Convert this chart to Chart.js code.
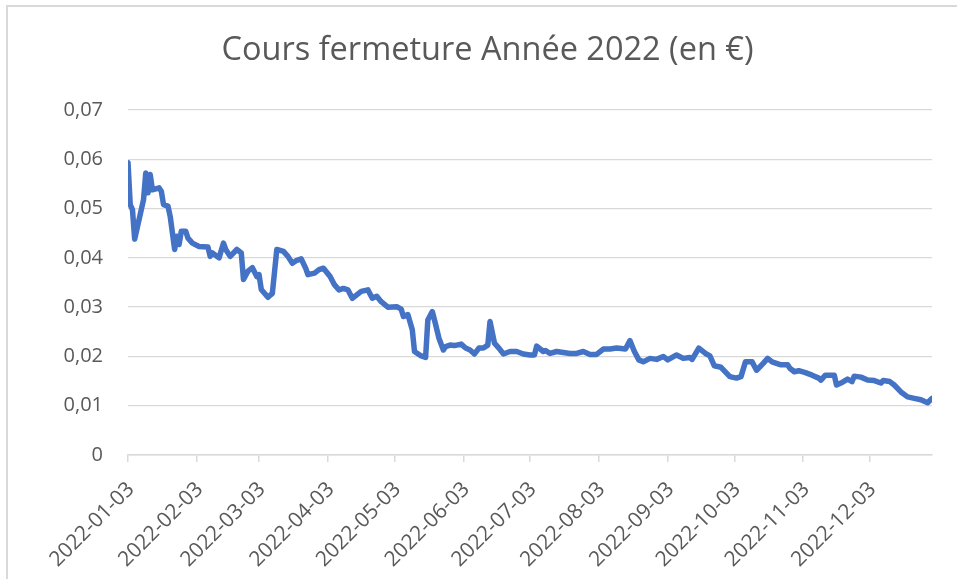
<!DOCTYPE html>
<html>
<head>
<meta charset="utf-8">
<script src="https://cdn.jsdelivr.net/npm/chart.js@4"></script>
<style>
  html, body { margin: 0; padding: 0; background: #ffffff; }
  #wrap { position: relative; width: 957px; height: 579px; overflow: hidden; }
  #frame { position: absolute; left: 6px; top: 5px; width: 960px; height: 580px;
           border-top: 2px solid #d9d9d9; border-left: 2px solid #d9d9d9; pointer-events: none; }
  canvas { position: absolute; left: 0; top: 0; }
</style>
</head>
<body>
<div id="wrap">
  <canvas id="c" width="957" height="579"></canvas>
  <div id="frame"></div>
</div>
<script>
const titleText = "Cours fermeture Année 2022 (en €)";

const dates = [
  "2022-01-03","2022-01-04","2022-01-05","2022-01-06","2022-01-10","2022-01-11","2022-01-12","2022-01-13","2022-01-14","2022-01-17",
  "2022-01-18","2022-01-19","2022-01-21","2022-01-22","2022-01-24","2022-01-25","2022-01-26","2022-01-27","2022-01-29","2022-01-30",
  "2022-02-01","2022-02-04","2022-02-08","2022-02-09","2022-02-10","2022-02-13","2022-02-15","2022-02-16","2022-02-18","2022-02-21",
  "2022-02-23","2022-02-24","2022-02-26","2022-02-28","2022-03-02","2022-03-03","2022-03-04","2022-03-07","2022-03-09","2022-03-11",
  "2022-03-14","2022-03-16","2022-03-18","2022-03-20","2022-03-22","2022-03-24","2022-03-25","2022-03-28","2022-03-30","2022-04-01",
  "2022-04-04","2022-04-06","2022-04-08","2022-04-10","2022-04-12","2022-04-14","2022-04-16","2022-04-18","2022-04-21","2022-04-23",
  "2022-04-25","2022-04-27","2022-04-30","2022-05-04","2022-05-06","2022-05-07","2022-05-09","2022-05-11","2022-05-12","2022-05-15",
  "2022-05-17","2022-05-18","2022-05-20","2022-05-21","2022-05-23","2022-05-25","2022-05-26","2022-05-28","2022-05-30","2022-06-02",
  "2022-06-04","2022-06-06","2022-06-08","2022-06-10","2022-06-12","2022-06-14","2022-06-15","2022-06-17","2022-06-19","2022-06-21",
  "2022-06-24","2022-06-27","2022-06-30","2022-07-03","2022-07-05","2022-07-06","2022-07-09","2022-07-10","2022-07-12","2022-07-15",
  "2022-07-18","2022-07-21","2022-07-24","2022-07-27","2022-07-30","2022-08-02","2022-08-05","2022-08-08","2022-08-11","2022-08-15",
  "2022-08-17","2022-08-19","2022-08-21","2022-08-23","2022-08-26","2022-08-29","2022-09-01","2022-09-03","2022-09-07","2022-09-10",
  "2022-09-13","2022-09-14","2022-09-17","2022-09-20","2022-09-22","2022-09-24","2022-09-27","2022-10-01","2022-10-04","2022-10-06",
  "2022-10-08","2022-10-11","2022-10-13","2022-10-16","2022-10-18","2022-10-20","2022-10-24","2022-10-27","2022-10-28","2022-10-30",
  "2022-11-01","2022-11-04","2022-11-07","2022-11-10","2022-11-11","2022-11-13","2022-11-17","2022-11-18","2022-11-20","2022-11-23",
  "2022-11-25","2022-11-26","2022-11-29","2022-12-02","2022-12-05","2022-12-08","2022-12-09","2022-12-12","2022-12-14","2022-12-17",
  "2022-12-20","2022-12-23","2022-12-26","2022-12-29","2022-12-31"
];

const closes = [
  0.0593,0.0508,0.0498,0.0438,0.0518,0.0572,0.0532,0.0569,0.0538,0.0542,
  0.0535,0.0508,0.0505,0.0484,0.0417,0.0444,0.0427,0.0454,0.0454,0.0440,
  0.0430,0.0423,0.0422,0.0403,0.0410,0.0400,0.0430,0.0417,0.0403,0.0417,
  0.0410,0.0356,0.0373,0.0380,0.0362,0.0366,0.0336,0.0320,0.0328,0.0417,
  0.0413,0.0403,0.0389,0.0395,0.0398,0.0379,0.0366,0.0369,0.0376,0.0379,
  0.0362,0.0345,0.0335,0.0338,0.0335,0.0318,0.0325,0.0332,0.0335,0.0318,
  0.0322,0.0311,0.0300,0.0301,0.0296,0.0281,0.0285,0.0254,0.0210,0.0201,
  0.0198,0.0274,0.0291,0.0274,0.0237,0.0213,0.0220,0.0223,0.0222,0.0225,
  0.0217,0.0213,0.0205,0.0217,0.0217,0.0223,0.0271,0.0227,0.0217,0.0205,
  0.0210,0.0210,0.0205,0.0203,0.0203,0.0221,0.0210,0.0212,0.0206,0.0210,
  0.0208,0.0206,0.0206,0.0210,0.0204,0.0204,0.0215,0.0215,0.0217,0.0215,
  0.0232,0.0210,0.0193,0.0189,0.0196,0.0194,0.0200,0.0193,0.0203,0.0196,
  0.0198,0.0194,0.0217,0.0206,0.0201,0.0181,0.0178,0.0159,0.0156,0.0159,
  0.0189,0.0189,0.0172,0.0186,0.0196,0.0189,0.0183,0.0183,0.0176,0.0169,
  0.0171,0.0167,0.0162,0.0156,0.0152,0.0162,0.0162,0.0142,0.0146,0.0154,
  0.0149,0.0160,0.0158,0.0152,0.0151,0.0146,0.0151,0.0149,0.0142,0.0128,
  0.0118,0.0115,0.0112,0.0106,0.0115
];

const tickLabels = [
  "2022-01-03","2022-02-03","2022-03-03","2022-04-03","2022-05-03","2022-06-03",
  "2022-07-03","2022-08-03","2022-09-03","2022-10-03","2022-11-03","2022-12-03"
];

const yTicks = [0, 0.01, 0.02, 0.03, 0.04, 0.05, 0.06, 0.07];

const startDate = "2022-01-03";
const endDate = "2022-12-31";

function dayOf(s) {
  const p = s.split("-").map(Number);
  const p0 = startDate.split("-").map(Number);
  return Math.round((Date.UTC(p[0], p[1] - 1, p[2]) - Date.UTC(p0[0], p0[1] - 1, p0[2])) / 86400000);
}

const points = dates.map((d, i) => ({ x: dayOf(d), y: closes[i] }));
const tickMap = {};
tickLabels.forEach(t => { tickMap[dayOf(t)] = t; });

const textColor = "#595959";
const gridColor = "#d9d9d9";
const fontFam = "'Open Sans', 'Noto Sans', sans-serif";

new Chart(document.getElementById("c"), {
  type: "line",
  data: {
    datasets: [{
      data: points,
      borderColor: "#4472C4",
      backgroundColor: "#4472C4",
      borderWidth: 5.5,
      pointRadius: 0,
      tension: 0,
      borderJoinStyle: "round",
      borderCapStyle: "round",
      fill: false
    }]
  },
  options: {
    responsive: false,
    animation: false,
    devicePixelRatio: 1,
    layout: { padding: { left: 43, right: 25, top: 0, bottom: 0 } },
    plugins: {
      legend: { display: false },
      tooltip: { enabled: false },
      title: {
        display: true,
        text: titleText,
        color: textColor,
        font: { family: fontFam, size: 32.5, weight: "normal" },
        padding: { top: 31, bottom: 40 }
      }
    },
    scales: {
      x: {
        type: "linear",
        min: 0,
        max: dayOf(endDate),
        afterBuildTicks: (scale) => {
          scale.ticks = tickLabels.map(t => ({ value: dayOf(t) }));
        },
        afterFit: (scale) => { scale.height = 124; },
        grid: {
          display: true,
          drawOnChartArea: false,
          drawTicks: true,
          tickLength: 7,
          color: gridColor,
          lineWidth: 1.5
        },
        border: { display: true, color: gridColor, width: 1.5 },
        ticks: {
          autoSkip: false,
          maxRotation: 45,
          minRotation: 45,
          padding: 15,
          labelOffset: 3,
          color: textColor,
          font: { family: fontFam, size: 21 },
          callback: (v) => tickMap[v] || ""
        }
      },
      y: {
        min: 0,
        max: 0.07,
        afterBuildTicks: (scale) => {
          scale.ticks = yTicks.map(v => ({ value: v }));
        },
        afterFit: (scale) => { scale.width = 85; },
        grid: {
          display: true,
          drawTicks: false,
          color: gridColor,
          lineWidth: 1.3
        },
        border: { display: false },
        ticks: {
          padding: 25,
          color: textColor,
          font: { family: fontFam, size: 20 },
          callback: (v) => v === 0 ? "0" : v.toFixed(2).replace(".", ",")
        }
      }
    }
  }
});
</script>
</body>
</html>
